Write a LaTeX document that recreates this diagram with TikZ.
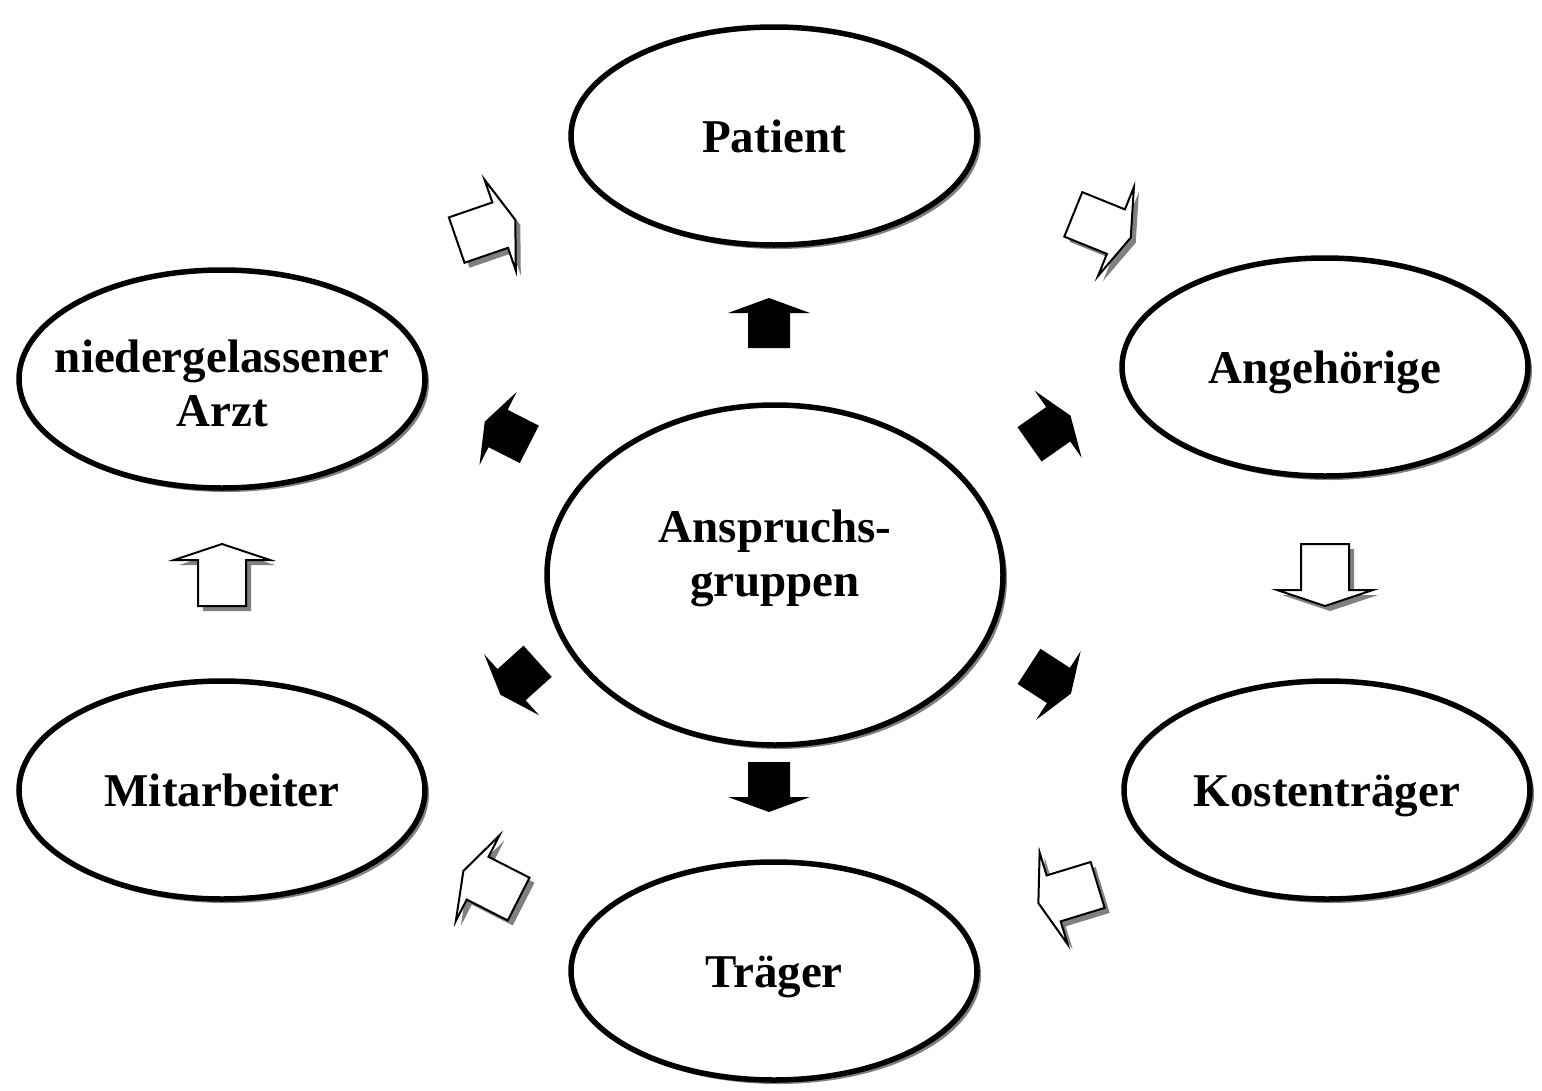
\documentclass[tikz,border=0pt]{standalone}
\usepackage{fontspec}
\setmainfont{Liberation Serif}
\usetikzlibrary{shapes.geometric,shadows}
\definecolor{shadowgray}{gray}{0.5}
\newcommand\blkarrow[3]{%
  \fill[black, shift={(#1,#2)}, rotate=#3]
    (-25,-21) -- (10,-21) -- (10,-41) -- (25,0) -- (10,41) -- (10,21) -- (-25,21) -- cycle;}
\newcommand\wharrow[3]{%
  \fill[shadowgray, shift={(#1,#2)}, shift={(5,5)}, rotate=#3]
    (-31,-24) -- (15,-24) -- (15,-48) -- (31,0) -- (15,48) -- (15,24) -- (-31,24) -- cycle;
  \filldraw[fill=white, draw=black, line width=2, line join=miter, shift={(#1,#2)}, rotate=#3]
    (-31,-24) -- (15,-24) -- (15,-48) -- (31,0) -- (15,48) -- (15,24) -- (-31,24) -- cycle;}
\begin{document}
\begin{tikzpicture}[x=1pt,y=-1pt,
  bubble/.style={ellipse, draw=black, line width=5.5, fill=white, inner sep=0pt,
    minimum width=406, minimum height=218,
    drop shadow={shadow xshift=4pt, shadow yshift=-4pt, fill=shadowgray, opacity=1}},
  lbl/.style={align=center, inner sep=0pt, font=\fontsize{47}{54}\selectfont\bfseries},
  lblbase/.style={lbl, anchor=base}]
\fill[white] (0,0) rectangle (1542,1090);
\useasboundingbox (0,0) rectangle (1542,1090);

\node[bubble] (patient) at (774,136) {};
\node[bubble] (angeh) at (1325,367) {};
\node[bubble] (arzt) at (222,379) {};
\node[bubble] (mitarb) at (222,790) {};
\node[bubble] (kosten) at (1327,790) {};
\node[bubble] (traeger) at (774,971) {};
\node[bubble, minimum width=456, minimum height=340] (center) at (775,575) {};

\node[lblbase] (patientlbl) at ([yshift=-16]patient.center) {Patient};
\node[lblbase] (angehlbl) at ([yshift=-16]angeh.center) {Angehörige};
\node[lbl] (arztlbl) at ([yshift=-4]arzt.center) {niedergelassener\\Arzt};
\node[lblbase] (mitarblbl) at ([yshift=-16]mitarb.center) {Mitarbeiter};
\node[lblbase] (kostenlbl) at ([yshift=-16]kosten.center) {Kostenträger};
\node[lblbase] (traegerlbl) at ([yshift=-16]traeger.center) {Träger};
\node[lbl] (centerlbl) at (775,558) {Anspruchs-\\gruppen};

% black arrows from the centre
\blkarrow{769}{323}{90}
\blkarrow{769}{787}{-90}
\blkarrow{507}{433}{153}
\blkarrow{1050}{430}{35}
\blkarrow{519}{678}{222}
\blkarrow{1050}{680}{-33}

% white arrows around the cycle
\wharrow{222}{575}{90}
\wharrow{486}{230}{19}
\wharrow{1102}{226}{-22}
\wharrow{1325}{575}{-90}
\wharrow{1068}{894}{197}
\wharrow{491}{885}{153}
\end{tikzpicture}
\end{document}
